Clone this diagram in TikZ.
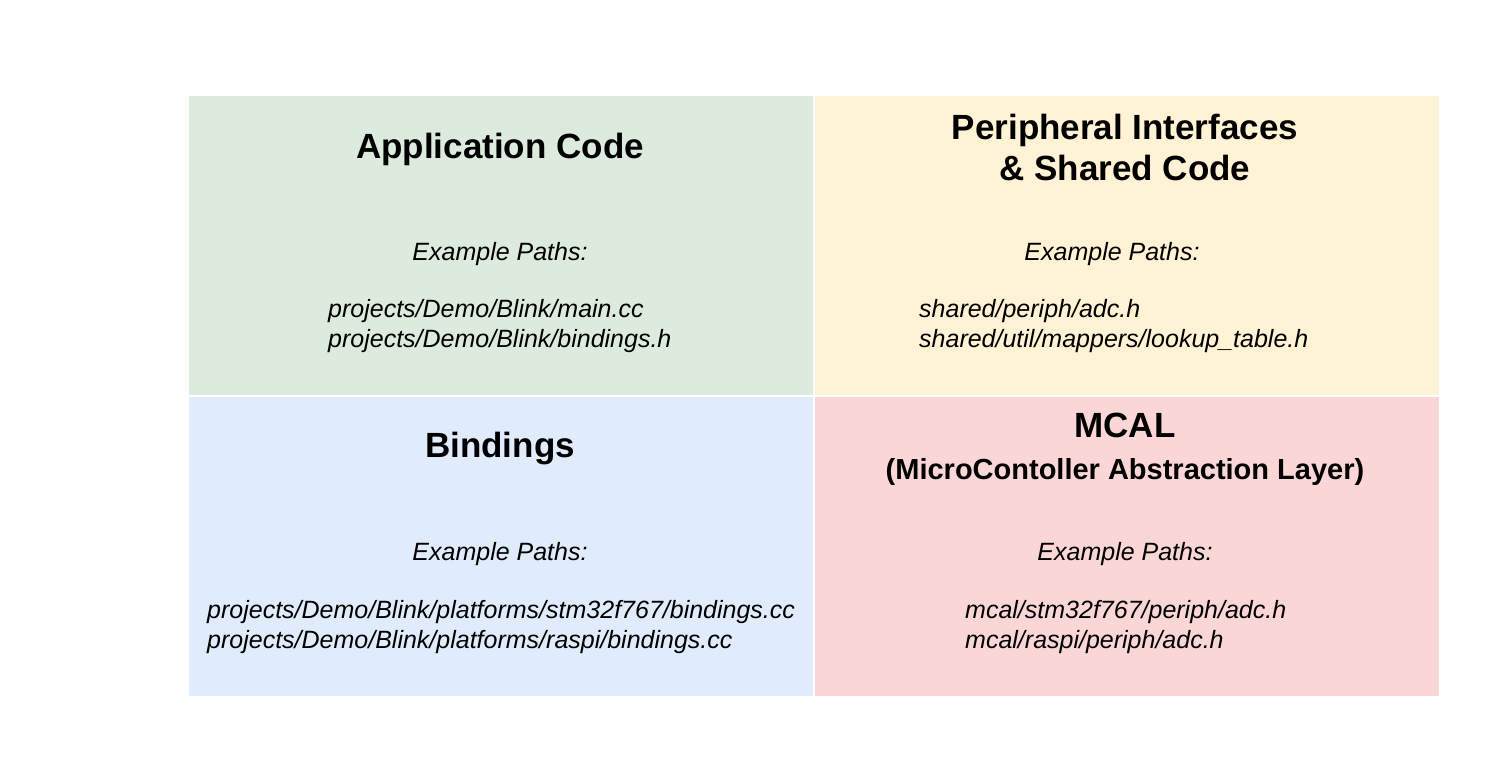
\documentclass[tikz,border=0pt]{standalone}
\usepackage{fontspec}
\setmainfont{Liberation Sans}

\definecolor{appgreen}{HTML}{DCEBDD}
\definecolor{periphyellow}{HTML}{FFF2D5}
\definecolor{bindblue}{HTML}{E0ECFC}
\definecolor{mcalred}{HTML}{FAD7D6}

\begin{document}
\begin{tikzpicture}[x=1pt, y=-1pt,
			layer box/.style={draw=none,minimum width=624pt,minimum height=299pt,inner sep=0pt,anchor=north west},
			title text/.style={font=\fontsize{35}{41}\selectfont\bfseries,align=center,anchor=base,inner sep=0pt},
			sub text/.style={font=\fontsize{29}{35}\selectfont\bfseries,anchor=base,inner sep=0pt},
			label text/.style={font=\fontsize{25}{29.5}\selectfont\itshape,anchor=base,inner sep=0pt},
			path text/.style={font=\fontsize{25}{29.5}\selectfont\itshape,align=left,anchor=base west,inner sep=0pt}]
			
			\useasboundingbox (0,0) rectangle (1488,773);
			
			% the four layers
			\node[layer box,fill=appgreen] (app) at (189,96) {};
			\node[layer box,fill=periphyellow] (periph) at (815,96) {};
			\node[layer box,fill=bindblue] (bind) at (189,397) {};
			\node[layer box,fill=mcalred] (mcal) at (815,397) {};
			
			% application code
			\node[title text] (app title) at (500,158) {Application Code};
			\node[label text] (app label) at (500,260) {Example Paths:};
			\node[path text] (app paths) at (328,347) {projects/Demo/Blink/main.cc\\projects/Demo/Blink/bindings.h};
			
			% peripheral interfaces
			\node[title text] (periph title) at (1125,180) {Peripheral Interfaces\\\& Shared Code};
			\node[label text] (periph label) at (1112,260) {Example Paths:};
			\node[path text] (periph paths) at (919,347) {shared/periph/adc.h\\shared/util/mappers/lookup\_table.h};
			
			% bindings
			\node[title text] (bind title) at (500,457) {Bindings};
			\node[label text] (bind label) at (500,560) {Example Paths:};
			\node[path text] (bind paths) at (207,648) {projects/Demo/Blink/platforms/stm32f767/bindings.cc\\projects/Demo/Blink/platforms/raspi/bindings.cc};
			
			% mcal
			\node[title text] (mcal title) at (1125,437) {MCAL};
			\node[sub text] (mcal sub) at (1125,479) {(MicroContoller Abstraction Layer)};
			\node[label text] (mcal label) at (1125,560) {Example Paths:};
			\node[path text] (mcal paths) at (965,648) {mcal/stm32f767/periph/adc.h\\mcal/raspi/periph/adc.h};
			
		\end{tikzpicture}
\end{document}
